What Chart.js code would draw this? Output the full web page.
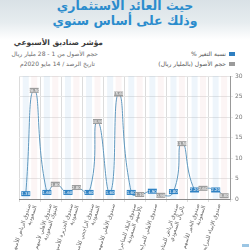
<!DOCTYPE html>
<html><head><meta charset="utf-8">
<script src="https://cdn.jsdelivr.net/npm/chart.js@4"></script>
<style>
html,body{margin:0;padding:0;width:250px;height:250px;overflow:hidden;background:#fff;font-family:"DejaVu Sans",sans-serif;}
#hdr{position:absolute;left:0;top:0;width:250px;height:40px;background:linear-gradient(#d9e1e6,#e6ecef 55%,#fff);}
.t{position:absolute;white-space:nowrap;direction:rtl;}
#c{position:absolute;left:0;top:0;}
</style></head><body>
<div id="hdr"></div>
<div class="t" style="left:0;width:250px;text-align:center;top:-2px;font-size:12.5px;font-weight:bold;color:#2b8ccd;line-height:15px;">حيث العائد الاستثماري<br>وذلك على أساس سنوي</div>
<div class="t" style="right:147px;top:38px;font-size:7.5px;font-weight:bold;color:#3a3a3a;">مؤشر صناديق الأسبوعي</div>
<div class="t" style="right:152px;top:50px;font-size:6px;color:#6a6a6a;">حجم الأصول من 1 - 28 مليار ريال</div>
<div class="t" style="right:155px;top:60px;font-size:6px;color:#6a6a6a;">تاريخ الرصد / 14 مايو 2020م</div>
<div class="t" style="right:24px;top:50px;font-size:6px;color:#555;">نسبة التغير %</div>
<div style="position:absolute;left:229px;top:52px;width:6px;height:4px;background:#2f7fc1;"></div>
<div class="t" style="right:24px;top:60px;font-size:6px;color:#555;">حجم الأصول (بالمليار ريال)</div>
<div style="position:absolute;left:229px;top:62px;width:6px;height:4px;background:#9b9b9b;"></div>
<div style="position:absolute;left:242px;top:244px;width:7px;height:3px;background:#9cc6e4;"></div>
<canvas id="c" width="250" height="250"></canvas>
<script>
const categories = [
  ["صندوق الرياض للأسهم","السعودية"],
  ["صندوق الأهلي لأسهم","البنوك السعودية"],
  ["صندوق الجزيرة للأسهم","السعودية"],
  ["صندوق الراجحي للأسهم","السعودية"],
  ["صندوق الأهلي للأسهم"],
  ["صندوق البلاد للمتاجرة","بالأسهم السعودية"],
  ["صندوق الأهلي للمرابحة"],
  ["صندوق الرياض للمتاجرة","بالريال السعودي"],
  ["صندوق الخير للأسهم","السعودية"],
  ["صندوق الإنماء للمرابحة"]
];
const changePct = [1.3, 1.6, 1.6, 1.6, 1.6, 1.6, 1.9, 1.8, 2.2, 2.2];
const assetsBn  = [26.5, 3.6, 2.8, 18.9, 25.6, 1.1, 0.9, 13.5, 2.6, 0.8];
const yTicks = [0, 5, 10, 15, 20, 25, 30];

const BLUE = '#2f82c3', GRAY = '#9d9d9d';
const pts = [], kinds = [];
categories.forEach((c, i) => {
  pts.push({x: i + 0.32, y: changePct[i]}); kinds.push('b');
  pts.push({x: i + 0.72, y: assetsBn[i]}); kinds.push('g');
});

const overlay = {
  id: 'overlay',
  beforeDatasetsDraw(chart) {
    const {ctx, chartArea: a, scales: {x}} = chart;
    ctx.save();
    pts.forEach((p, i) => {
      const px = x.getPixelForValue(p.x);
      ctx.fillStyle = kinds[i] === 'b' ? 'rgba(120,180,225,0.13)' : 'rgba(230,170,170,0.12)';
      ctx.fillRect(px - 3, a.top, 6, a.bottom - a.top);
    });
    ctx.restore();
  },
  afterDatasetsDraw(chart) {
    const {ctx} = chart;
    const meta = chart.getDatasetMeta(0);
    ctx.save();
    ctx.font = '4px "DejaVu Sans"';
    ctx.textAlign = 'center'; ctx.textBaseline = 'middle';
    meta.data.forEach((el, i) => {
      const w = 9, h = 5;
      ctx.fillStyle = kinds[i] === 'b' ? BLUE : GRAY;
      ctx.fillRect(el.x - w / 2, el.y - h / 2, w, h);
      ctx.fillStyle = '#fff';
      ctx.fillText(pts[i].y.toFixed(2), el.x, el.y + 0.3);
    });
    ctx.restore();
  }
};

new Chart(document.getElementById('c'), {
  type: 'line',
  data: { datasets: [{
    data: pts, borderColor: '#5f98bf', borderWidth: 1, tension: 0.6,
    pointRadius: 0, fill: false
  }]},
  options: {
    responsive: false, animation: false,
    layout: { padding: { top: 76, left: 19, right: 2, bottom: 0 } },
    plugins: { legend: { display: false }, tooltip: { enabled: false } },
    scales: {
      x: {
        type: 'linear', min: 0, max: categories.length,
        afterBuildTicks(s) { const t = []; for (let k = 0; k <= categories.length * 2; k++) t.push({value: k / 2}); s.ticks = t; },
        afterFit(s) { s.height = 51; },
        grid: { color: c => (c.tick && c.tick.value % 1 === 0) ? '#dcdcdc' : 'rgba(0,0,0,0)', tickLength: 3 },
        border: { color: '#888' },
        ticks: {
          autoSkip: false, maxRotation: 72, minRotation: 72, padding: 1,
          font: { size: 5.5, family: 'DejaVu Sans', lineHeight: 1.1 }, color: '#666',
          callback: v => (v % 1 === 0.5) ? categories[Math.floor(v)] : ''
        }
      },
      y: {
        position: 'right', min: 0, max: 30,
        afterBuildTicks(s) { s.ticks = yTicks.map(v => ({value: v})); },
        afterFit(s) { s.width = 18; },
        grid: { color: '#e6e6e6', tickLength: 3 },
        border: { color: '#999' },
        ticks: { font: { size: 6, family: 'DejaVu Sans' }, color: '#777', padding: 2 }
      }
    }
  },
  plugins: [overlay]
});
</script>
</body></html>
